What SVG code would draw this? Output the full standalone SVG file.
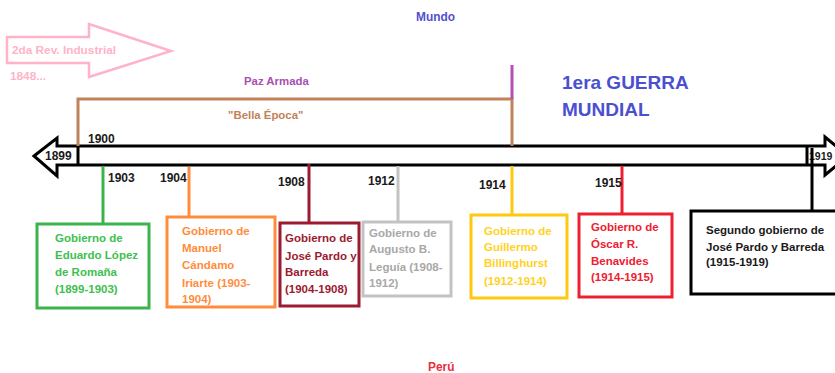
<svg xmlns="http://www.w3.org/2000/svg" width="835" height="373" viewBox="0 0 835 373">
<style>
text{font-family:"Liberation Sans",Arial,sans-serif;font-weight:bold;}
.yr{font-size:12px;fill:#1a1a1a;}
.bx{font-size:11.5px;}
.box{fill:#fff;stroke-width:3;}
.tick{stroke-width:3;fill:none;}
</style>
<rect width="835" height="373" fill="#fff"/>
<g id="revolucion">
<polygon points="7,37 89,37 89,24 171,51 89,77 89,63 7,63" fill="none" stroke="#ffb3c8" stroke-width="2.5"/>
<text x="12" y="54" font-size="11.8" fill="#ffb3c8">2da Rev. Industrial</text>
<text x="10" y="80" font-size="11.8" fill="#ffb3c8">1848...</text>
</g>
<g id="mundo"><text x="416" y="21" font-size="11.9" fill="#5050d0">Mundo</text></g>
<g id="peru"><text x="428" y="371" font-size="11.9" fill="#e83040">Perú</text></g>
<g id="guerra">
<text x="562" y="89" font-size="19" fill="#4a50d0">1era GUERRA</text>
<text x="562" y="116" font-size="19" fill="#4a50d0">MUNDIAL</text>
</g>
<g id="paz-armada"><text x="244" y="85" font-size="11.4" fill="#a850b0">Paz Armada</text></g>
<g id="bella-epoca"><text x="228" y="119" font-size="11.4" fill="#c0825a">"Bella Época"</text></g>
<g id="timeline">
<polygon points="34,156 57,138 57,146 825,146 825,137 848,156 825,175 825,165 57,165 57,176" fill="#fff" stroke="#000" stroke-width="3" stroke-linejoin="miter"/>
<line x1="78" y1="146" x2="78" y2="165" stroke="#000" stroke-width="3"/>
<line x1="807" y1="146" x2="807" y2="165" stroke="#000" stroke-width="3"/>
<text x="45" y="160" class="yr">1899</text>
<text x="809" y="160" font-size="10.5" fill="#1a1a1a">1919</text>
</g>
<g id="connectors">
<polyline points="78,146 78,99 512,99 512,146" fill="none" stroke="#c0825a" stroke-width="3"/>
<line x1="512" y1="65" x2="512" y2="99" stroke="#b050b8" stroke-width="3"/>
<line class="tick" x1="103" y1="166" x2="103" y2="224" stroke="#3cb44b"/>
<line class="tick" x1="189" y1="167" x2="189" y2="217" stroke="#ff8c3c"/>
<line class="tick" x1="309" y1="164" x2="309" y2="223" stroke="#9b1b30"/>
<line class="tick" x1="398" y1="166" x2="398" y2="222" stroke="#c3c3c3"/>
<line class="tick" x1="512" y1="166" x2="512" y2="215" stroke="#ffc90e"/>
<line class="tick" x1="622" y1="166" x2="622" y2="214" stroke="#ee2030"/>
<line class="tick" x1="812" y1="148" x2="812" y2="211" stroke="#000"/>
</g>
<g id="y1900"><text x="88" y="143" class="yr">1900</text></g>
<g id="y1903"><text x="108" y="182" class="yr">1903</text></g>
<g id="y1904"><text x="160" y="182" class="yr">1904</text></g>
<g id="y1908"><text x="278" y="186" class="yr">1908</text></g>
<g id="y1912"><text x="368" y="185" class="yr">1912</text></g>
<g id="y1914"><text x="479" y="189" class="yr">1914</text></g>
<g id="y1915"><text x="595" y="187" class="yr">1915</text></g>
<g id="lopez">
<rect class="box" x="37" y="224" width="112" height="84" stroke="#3cb44b"/>
<g class="bx" fill="#40c050">
<text x="55" y="242">Gobierno de</text>
<text x="55" y="259">Eduardo López</text>
<text x="55" y="276">de Romaña</text>
<text x="55" y="293">(1899-1903)</text>
</g>
</g>
<g id="candamo">
<rect class="box" x="167" y="217" width="108" height="90" stroke="#ff8c3c"/>
<g class="bx" fill="#ff8c3c">
<text x="182" y="235">Gobierno de</text>
<text x="182" y="252">Manuel</text>
<text x="182" y="269">Cándamo</text>
<text x="182" y="287">Iriarte (1903-</text>
<text x="182" y="303">1904)</text>
</g>
</g>
<g id="pardo1">
<rect class="box" x="280" y="223" width="79" height="83" stroke="#9b1b30"/>
<g class="bx" fill="#9b1b30">
<text x="285" y="242">Gobierno de</text>
<text x="285" y="260">José Pardo y</text>
<text x="285" y="276">Barreda</text>
<text x="285" y="293">(1904-1908)</text>
</g>
</g>
<g id="leguia">
<rect class="box" x="363" y="222" width="88" height="74" stroke="#c3c3c3"/>
<g class="bx" fill="#a8a8a8">
<text x="369" y="237">Gobierno de</text>
<text x="369" y="253">Augusto B.</text>
<text x="369" y="271">Leguía (1908-</text>
<text x="369" y="287">1912)</text>
</g>
</g>
<g id="billinghurst">
<rect class="box" x="471" y="215" width="96" height="83" stroke="#ffc90e"/>
<g class="bx" fill="#ffd21e">
<text x="484" y="235">Gobierno de</text>
<text x="484" y="251">Guillermo</text>
<text x="484" y="267">Billinghurst</text>
<text x="484" y="285">(1912-1914)</text>
</g>
</g>
<g id="benavides">
<rect class="box" x="579" y="214" width="93" height="83" stroke="#ee2030"/>
<g class="bx" fill="#ee2030">
<text x="591" y="231">Gobierno de</text>
<text x="591" y="248">Óscar R.</text>
<text x="591" y="265">Benavides</text>
<text x="591" y="281">(1914-1915)</text>
</g>
</g>
<g id="pardo2">
<rect class="box" x="691" y="211" width="150" height="83" stroke="#000"/>
<g class="bx" fill="#1a1a1a">
<text x="706" y="234">Segundo gobierno de</text>
<text x="706" y="251">José Pardo y Barreda</text>
<text x="706" y="266">(1915-1919)</text>
</g>
</g>
</svg>
